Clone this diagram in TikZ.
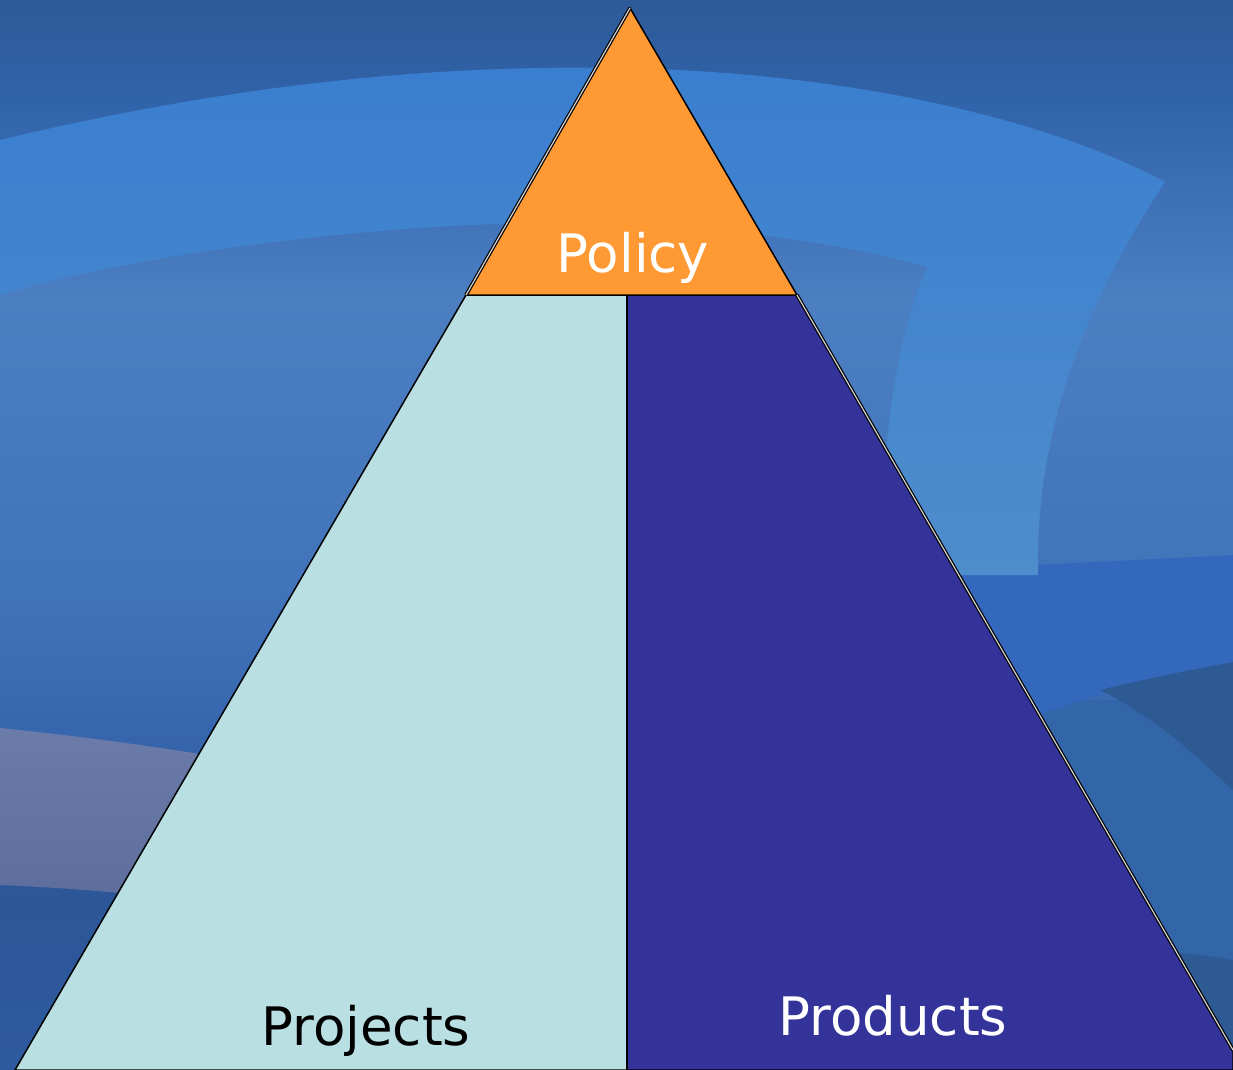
\documentclass[tikz,border=0pt]{standalone}
\usepackage{fontspec}
\setmainfont{DejaVu Sans}
\definecolor{polorange}{HTML}{FF9933}
\definecolor{projcyan}{HTML}{B9DFE2}
\definecolor{proddark}{HTML}{343399}
\definecolor{bgA}{HTML}{2D5A98}
\definecolor{bgB}{HTML}{3163AA}
\definecolor{bgC}{HTML}{4C7EC2}
\definecolor{bgD}{HTML}{4173BA}
\definecolor{bgE}{HTML}{3767AF}
\definecolor{bgF}{HTML}{2C5697}
\definecolor{bgG}{HTML}{2E5AA0}
\definecolor{bandtop}{HTML}{3A7ECF}
\definecolor{bandbot}{HTML}{4E8DCC}
\definecolor{purpband}{HTML}{5F70A2}
\definecolor{satblue}{HTML}{3468BC}
\definecolor{darkpatch}{HTML}{2E5A94}
\definecolor{midpatch}{HTML}{3366A8}
\pgfdeclareverticalshading{bgshade}{100bp}{color(0bp)=(bgG); color(25bp)=(bgG); color(33bp)=(bgF); color(41.4bp)=(bgE); color(47bp)=(bgD); color(61bp)=(bgC); color(70.3bp)=(bgB); color(75bp)=(bgA); color(100bp)=(bgA)}
\tikzset{
  edge/.style={draw=black, line width=0.75pt, line join=miter},
  dbledge/.style={draw=black, line width=0.6pt, double=gray!35, double distance=0.6pt},
  lbl/.style={anchor=base, inner sep=0pt, font=\fontsize{26.5}{30}\selectfont}
}
\begin{document}
\begin{tikzpicture}[x=0.5pt, y=-0.5pt]
\useasboundingbox (0,0) rectangle (1233,1070);
% background
\shade[shading=bgshade] (0,0) rectangle (1233,1070);
% right side patches
\fill[midpatch] (900,700) rectangle (1233,1070);
\fill[darkpatch] (1233,960) .. controls (1180,950) and (1130,950) .. (1100,955) -- (1100,1070) -- (1233,1070) -- cycle;
\fill[satblue] (900,572) -- (1233,555) -- (1233,665) .. controls (1150,680) and (1090,695) .. (1040,715) -- (900,715) -- cycle;
\fill[darkpatch] (1100,690) .. controls (1160,720) and (1200,760) .. (1233,790) -- (1233,662) .. controls (1190,670) and (1140,680) .. (1100,690) -- cycle;
% light arc band
\shade[top color=bandtop, bottom color=bandbot]
  (0,140) .. controls (250,80) and (450,65) .. (620,68)
  .. controls (850,72) and (1050,120) .. (1165,182)
  .. controls (1080,310) and (1035,440) .. (1038,575)
  -- (882,575)
  .. controls (880,450) and (895,340) .. (927,267)
  .. controls (800,230) and (600,215) .. (420,228)
  .. controls (250,240) and (100,265) .. (0,295) -- cycle;
% purple band lower left
\shade[top color=purpband!92!white, bottom color=purpband!95!black]
  (0,728) .. controls (120,740) and (250,760) .. (400,790)
  -- (400,930) .. controls (250,905) and (120,890) .. (0,885) -- cycle;
% pyramid
\coordinate (A) at (630,8);
\coordinate (PL) at (466,295);
\coordinate (PR) at (797,295);
\coordinate (M) at (627,295);
\coordinate (LB) at (15,1070);
\coordinate (MB) at (627,1070);
\coordinate (RB) at (1233,1050);
\coordinate (RC) at (1233,1070);
\path[fill=projcyan, edge] (PL) -- (M) -- (MB) -- (LB) -- cycle;
\path[fill=proddark, edge] (M) -- (PR) -- (RB) -- (RC) -- (MB) -- cycle;
\path[fill=polorange, edge] (A) -- (PR) -- (PL) -- cycle;
\draw[dbledge] (A) -- (PL);
\draw[dbledge] (PR) -- (RB);
\draw[edge] (M) -- (MB);
% labels
\node[lbl, text=white] (policy) at (633,272) {Policy};
\node[lbl, text=black] (projects) at (366,1045) {Projects};
\node[lbl, text=white] (products) at (893,1035) {Products};
\end{tikzpicture}
\end{document}
